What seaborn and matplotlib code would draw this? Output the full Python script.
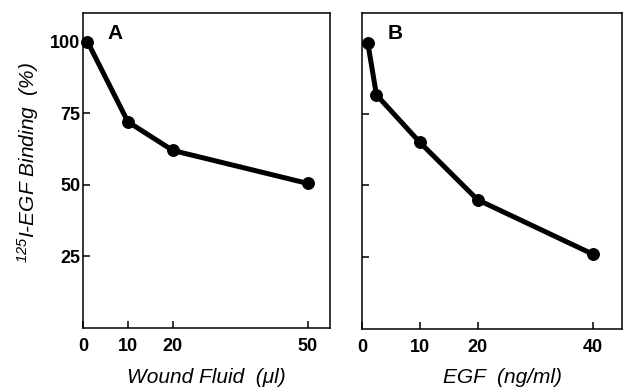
import matplotlib
matplotlib.use("Agg")
import matplotlib.pyplot as plt
import seaborn as sns
import pandas as pd

wound_fluid = [1, 10, 20, 50]
binding_a = [100, 72, 62, 50.5]
egf_conc = [1, 2.5, 10, 20, 40]
binding_b = [99.6, 81.5, 65, 45, 26]
a_xticks = [0, 10, 20, 50]
b_xticks = [0, 10, 20, 40]
yticks = [25, 50, 75, 100]

sns.set_style("ticks")
plt.rcParams['font.family'] = ['Liberation Sans', 'DejaVu Sans']
plt.rcParams['text.color'] = 'black'
plt.rcParams['axes.labelcolor'] = 'black'
plt.rcParams['xtick.color'] = 'black'
plt.rcParams['ytick.color'] = 'black'
plt.rcParams['xtick.direction'] = 'in'
plt.rcParams['ytick.direction'] = 'in'
plt.rcParams['mathtext.fontset'] = 'custom'
plt.rcParams['mathtext.rm'] = 'Liberation Sans:italic'
plt.rcParams['mathtext.it'] = 'Liberation Sans:italic'

fig = plt.figure(figsize=(6.28, 3.91), dpi=100)
axA = fig.add_axes([83/628, 1-328/391, 247/628, 315/391])
axB = fig.add_axes([362/628, 1-329/391, 260/628, 316/391])

dfA = pd.DataFrame({"x": wound_fluid, "y": binding_a})
dfB = pd.DataFrame({"x": egf_conc, "y": binding_b})

for ax, df, xt, xmax, letter, xlabel in [
    (axA, dfA, a_xticks, 55, "A", "Wound Fluid  (\u03bcl)"),
    (axB, dfB, b_xticks, 45, "B", "EGF  (ng/ml)"),
]:
    sns.lineplot(data=df, x="x", y="y", ax=ax, color="black", linewidth=3.6,
                 marker="o", markersize=8.5, markeredgecolor="black", clip_on=False)
    ax.set_xlim(0, xmax)
    ax.set_ylim(0, 110)
    ax.set_xticks(xt)
    ax.set_yticks(yticks)
    for s in ax.spines.values():
        s.set_visible(True)
        s.set_linewidth(1.1)
        s.set_color("black")
    ax.tick_params(direction="in", length=5, width=1.1, labelsize=13, colors="black")
    ax.tick_params(axis="x", pad=7)
    ax.tick_params(axis="y", pad=2)
    for lab in ax.get_xticklabels() + ax.get_yticklabels():
        lab.set_fontweight("bold")
    ax.set_xlabel(xlabel, fontsize=15, fontstyle="italic")
    ax.set_ylabel("")
    ax.text(0.1, 0.965, letter, transform=ax.transAxes, fontsize=15, fontweight="bold",
            va="top", ha="left", color="black")

axB.set_yticklabels([])
axA.xaxis.set_label_coords(0.5, -0.127)
axB.xaxis.set_label_coords(0.54, -0.123)
axA.set_ylabel(r"$^{125}$I-EGF Binding  (%)", fontsize=15, fontstyle="italic")
axA.yaxis.set_label_coords(-0.17, 0.524)
fig.savefig("out.png", dpi=100)
